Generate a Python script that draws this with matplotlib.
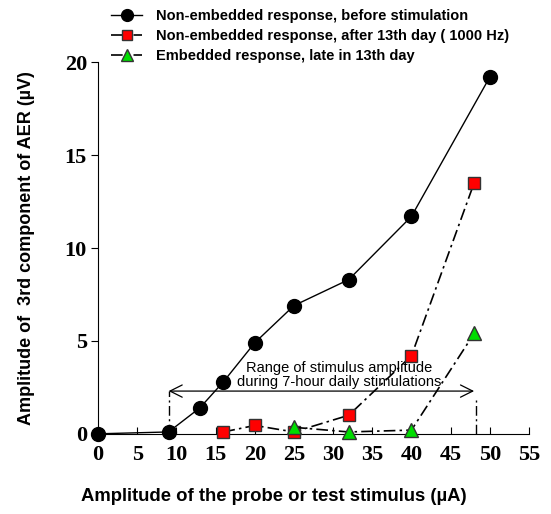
import numpy as np
import matplotlib.pyplot as plt

# stimulus amplitude (uA) and response amplitude (uV)
x_before = [0, 9, 13, 16, 20, 25, 32, 40, 50]
y_before = [0, 0.1, 1.4, 2.8, 4.9, 6.9, 8.3, 11.7, 19.2]

x_after = [16, 20, 25, 32, 40, 48]
y_after = [0.1, 0.45, 0.1, 1.0, 4.2, 13.5]

x_embed = [25, 32, 40, 48]
y_embed = [0.35, 0.1, 0.2, 5.4]

range_lo, range_hi = 9, 48

xticks = np.arange(0, 56, 5)
yticks = np.arange(0, 21, 5)

fig = plt.figure(figsize=(5.51, 5.14), dpi=100)
ax = fig.add_axes([0.178, 0.156, 0.782, 0.723])

dashdot = (0, (7, 2.5, 1.5, 2.5))

l1, = ax.plot(x_before, y_before, '-', color='black', lw=1, marker='o', ms=10,
              mfc='black', mec='black', clip_on=False, zorder=4)
l2, = ax.plot(x_after, y_after, color='black', lw=1.2, linestyle=dashdot, marker='s', ms=8.5,
              mfc='#ff0000', mec='#333333', mew=1, clip_on=False, zorder=3)
l3, = ax.plot(x_embed, y_embed, color='black', lw=1.2, linestyle=dashdot, marker='^', ms=10,
              mfc='#00dd00', mec='#333333', mew=1, clip_on=False, zorder=5)

# range of stimulus amplitude
ax.annotate('', xy=(range_lo, 2.3), xytext=(range_hi, 2.3),
            arrowprops=dict(arrowstyle='<->', color='black', lw=0.9,
                            mutation_scale=22, shrinkA=0, shrinkB=0))
ax.plot([range_lo, range_lo], [0, 2.3], color='black', lw=1, linestyle=dashdot)
ax.plot([range_hi + 0.3, range_hi + 0.3], [0, 1.8], color='black', lw=1, linestyle=dashdot)
ax.text(30.8, 3.15, 'Range of stimulus amplitude\nduring 7-hour daily stimulations',
        ha='center', va='center', fontsize=10.5, family='Liberation Sans', linespacing=1.0)

ax.set_xlim(0, 55)
ax.set_ylim(0, 20)
ax.set_xticks(xticks)
ax.set_yticks(yticks)
ax.spines['top'].set_visible(False)
ax.spines['right'].set_visible(False)
ax.tick_params(axis='x', direction='in', length=5, pad=8)
ax.tick_params(axis='y', direction='out', length=5, pad=3)
for lab in ax.get_xticklabels() + ax.get_yticklabels():
    lab.set_family('Liberation Serif')
    lab.set_fontweight('bold')
    lab.set_fontsize(16)

ax.set_xlabel('Amplitude of the probe or test stimulus (µA)', fontsize=13.3,
              fontweight='bold', family='Liberation Sans', va='center', ha='center')
ax.set_ylabel('Amplitude of  3rd component of AER (µV)', fontsize=13,
              fontweight='bold', family='Liberation Sans', va='center', ha='center')
ax.xaxis.set_label_coords(0.408, -0.170)
ax.yaxis.set_label_coords(-0.167, 0.5)

fig.legend([l1, l2, l3],
           ['Non-embedded response, before stimulation',
            'Non-embedded response, after 13th day ( 1000 Hz)',
            'Embedded response, late in 13th day'],
           loc='upper left', bbox_to_anchor=(0.185, 1.0), frameon=False,
           prop=dict(family='Liberation Sans', weight='bold', size=10.5),
           handlelength=2.1, handletextpad=0.95, labelspacing=0.4, borderaxespad=0.25,
           markerscale=0.85)

fig.savefig('out.png', dpi=100)
